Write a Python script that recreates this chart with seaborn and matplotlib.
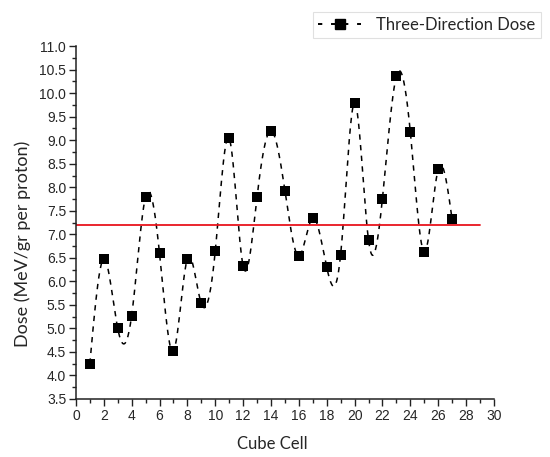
import numpy as np
import pandas as pd
import matplotlib
matplotlib.use('Agg')
import matplotlib.pyplot as plt
from matplotlib.ticker import MultipleLocator
import seaborn as sns

# Dose per cube cell
cube_cell = [1, 2, 3, 4, 5, 6, 7, 8, 9, 10, 11, 12, 13, 14, 15, 16, 17, 18, 19, 20,
             21, 22, 23, 24, 25, 26, 27]
dose = [4.25, 6.48, 5.00, 5.27, 7.80, 6.60, 4.51, 6.48, 5.53, 6.64, 9.04, 6.33, 7.80,
        9.20, 7.93, 6.54, 7.35, 6.30, 6.57, 9.80, 6.88, 7.76, 10.36, 9.18, 6.62, 8.38, 7.32]
mean_dose = 7.2
mean_span = [0, 29]


def natural_spline(x, y, n=600):
    # natural cubic spline through the data, used only to draw the smooth dashed curve
    x = np.asarray(x, float)
    y = np.asarray(y, float)
    h = np.diff(x)
    m = len(x)
    A = np.zeros((m, m))
    r = np.zeros(m)
    A[0, 0] = A[-1, -1] = 1
    for i in range(1, m - 1):
        A[i, i - 1] = h[i - 1]
        A[i, i] = 2 * (h[i - 1] + h[i])
        A[i, i + 1] = h[i]
        r[i] = 6 * ((y[i + 1] - y[i]) / h[i] - (y[i] - y[i - 1]) / h[i - 1])
    M = np.linalg.solve(A, r)
    xs = np.linspace(x[0], x[-1], n)
    k = np.clip(np.searchsorted(x, xs) - 1, 0, m - 2)
    t0 = x[k + 1] - xs
    t1 = xs - x[k]
    hk = h[k]
    ys = (M[k] * t0 ** 3 + M[k + 1] * t1 ** 3) / (6 * hk) \
        + (y[k] / hk - M[k] * hk / 6) * t0 + (y[k + 1] / hk - M[k + 1] * hk / 6) * t1
    return xs, ys


df = pd.DataFrame({'Cube Cell': cube_cell, 'Dose': dose})
xs, ys = natural_spline(cube_cell, dose)
curve = pd.DataFrame({'x': xs, 'y': ys})

sns.set_style('ticks')
plt.rcParams['font.family'] = ['Liberation Sans', 'DejaVu Sans']

fig = plt.figure(figsize=(5.5, 4.57), dpi=100)
ax = fig.add_axes([0.138, 0.127, 0.76, 0.772])

sns.lineplot(data=curve, x='x', y='y', ax=ax, color='black', lw=1.1,
             linestyle=(0, (3.5, 3.5)), estimator=None, sort=False)
sns.scatterplot(data=df, x='Cube Cell', y='Dose', ax=ax, marker='s', s=42,
                color='black', edgecolor='black', linewidth=0, zorder=3)
ax.plot(mean_span, [mean_dose, mean_dose], color='#e8141c', lw=1.3, zorder=2)

ax.set_xlim(0, 30)
ax.set_ylim(3.5, 11.0)
ax.xaxis.set_major_locator(MultipleLocator(2))
ax.xaxis.set_minor_locator(MultipleLocator(1))
ax.yaxis.set_major_locator(MultipleLocator(0.5))
ax.yaxis.set_minor_locator(MultipleLocator(0.25))
ax.set_xticklabels([str(int(v)) for v in ax.get_xticks()])
ax.set_yticks(np.arange(3.5, 11.01, 0.5))
ax.set_yticklabels([f'{v:.1f}' for v in np.arange(3.5, 11.01, 0.5)])
ax.tick_params(which='major', direction='out', length=5, width=1, labelsize=10,
               color='#222222', pad=2)
ax.tick_params(which='minor', direction='out', length=3, width=1, color='#222222')
for side in ['top', 'right']:
    ax.spines[side].set_visible(False)
for side in ['left', 'bottom']:
    ax.spines[side].set_linewidth(1.1)
    ax.spines[side].set_color('#222222')

ax.set_xlabel('Cube Cell', family=['Lato', 'DejaVu Sans'], fontsize=12)
ax.set_ylabel('Dose (MeV/gr per proton)', family=['Lato', 'DejaVu Sans'], fontsize=13)
ax.xaxis.set_label_coords(0.469, -0.105)
ax.yaxis.set_label_coords(-0.107, 0.44)

handle = plt.Line2D([], [], color='black', lw=1.4, linestyle=(0, (2.2, 4.5)), marker='s',
                    markersize=7)
leg = fig.legend([handle], ['Three-Direction Dose'], loc='upper right',
                 bbox_to_anchor=(0.998, 0.992), frameon=True, fancybox=False,
                 prop={'family': ['Lato', 'DejaVu Sans'], 'size': 12},
                 handlelength=2.6, handletextpad=0.9, borderpad=0.3)
leg.get_frame().set_edgecolor('#d9d9d9')
leg.get_frame().set_linewidth(0.8)

fig.savefig('out.png', dpi=100)
